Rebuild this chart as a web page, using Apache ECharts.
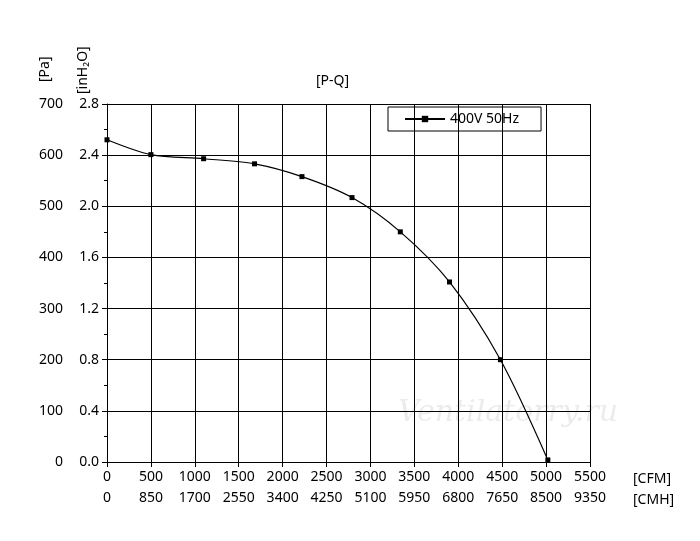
<!DOCTYPE html>
<html>
<head>
<meta charset="utf-8">
<script src="https://cdn.jsdelivr.net/npm/echarts@6/dist/echarts.min.js"></script>
<style>html,body{margin:0;padding:0;background:#fff}#main{width:700px;height:541px}</style>
</head>
<body>
<div id="main"></div>
<script>
// P-Q 曲线 (CFM, Pa)
var pq = [[0, 630], [500, 601], [1100, 593], [1680, 583], [2220, 558], [2790, 517], [3340, 450], [3900, 352], [4480, 200], [5020, 4]];

var myChart = echarts.init(document.getElementById('main'));
var font = 'Noto Sans';
var lbl = { color: '#000', fontSize: 14, fontFamily: font, formatter: function (v) { return String(v); } };
var option = {
  animation: false,
  grid: { left: 107, right: 110, top: 104, bottom: 79 },
  legend: {
    left: 388, top: 107, itemWidth: 40, itemHeight: 8, itemGap: 0,
    borderColor: '#000', borderWidth: 1, padding: [5, 22, 5, 16],
    textStyle: { color: '#000', fontSize: 14, fontFamily: font },
    data: ['400V 50Hz']
  },
  graphic: [
    { type: 'text', left: 316, top: 74, style: { text: '[P-Q]', fontSize: 14, fontFamily: font, fill: '#000' } },
    { type: 'text', x: 38, y: 82, rotation: Math.PI / 2, style: { text: '[Pa]', fontSize: 14, fontFamily: font, fill: '#000' } },
    { type: 'text', x: 76, y: 94, rotation: Math.PI / 2, style: { text: '[inH₂O]', fontSize: 14, fontFamily: font, fill: '#000' } },
    { type: 'text', left: 633, top: 472, style: { text: '[CFM]', fontSize: 14, fontFamily: font, fill: '#000' } },
    { type: 'text', left: 633, top: 493, style: { text: '[CMH]', fontSize: 14, fontFamily: font, fill: '#000' } },
    { type: 'text', left: 398, top: 398, style: { text: 'Ventilatorry.ru', fontSize: 30, fontStyle: 'italic', fontFamily: 'DejaVu Serif', fill: 'rgba(0,0,0,0.08)' } }
  ],
  xAxis: [{
    type: 'value', min: 0, max: 5500, interval: 500, position: 'bottom',
    axisLine: { lineStyle: { color: '#000' } },
    axisTick: { lineStyle: { color: '#000' } },
    axisLabel: lbl,
    splitLine: { show: true, lineStyle: { color: '#000', width: 1 } }
  }, {
    type: 'value', min: 0, max: 9350, interval: 850, position: 'bottom', offset: 21,
    axisLine: { show: false }, axisTick: { show: false },
    axisLabel: lbl, splitLine: { show: false }
  }],
  yAxis: [{
    type: 'value', min: 0, max: 700, interval: 100, position: 'left', offset: 36,
    axisLine: { show: false }, axisTick: { show: false },
    axisLabel: lbl, splitLine: { show: false }
  }, {
    type: 'value', min: 0, max: 2.8, interval: 0.4, position: 'left',
    axisLine: { lineStyle: { color: '#000' } },
    axisTick: { lineStyle: { color: '#000' } },
    minorTick: { show: true, splitNumber: 2, length: 3, lineStyle: { color: '#000' } },
    axisLabel: Object.assign({}, lbl, { formatter: function (v) { return v.toFixed(1); } }),
    splitLine: { show: true, lineStyle: { color: '#000', width: 1 } }
  }],
  series: [{
    name: '400V 50Hz', type: 'line', xAxisIndex: 0, yAxisIndex: 0,
    data: pq, smooth: 0.3, symbol: 'rect', symbolSize: 5,
    lineStyle: { color: '#000', width: 1.2 }, itemStyle: { color: '#000' }
  }]
};
myChart.setOption(option);
</script>
</body>
</html>
